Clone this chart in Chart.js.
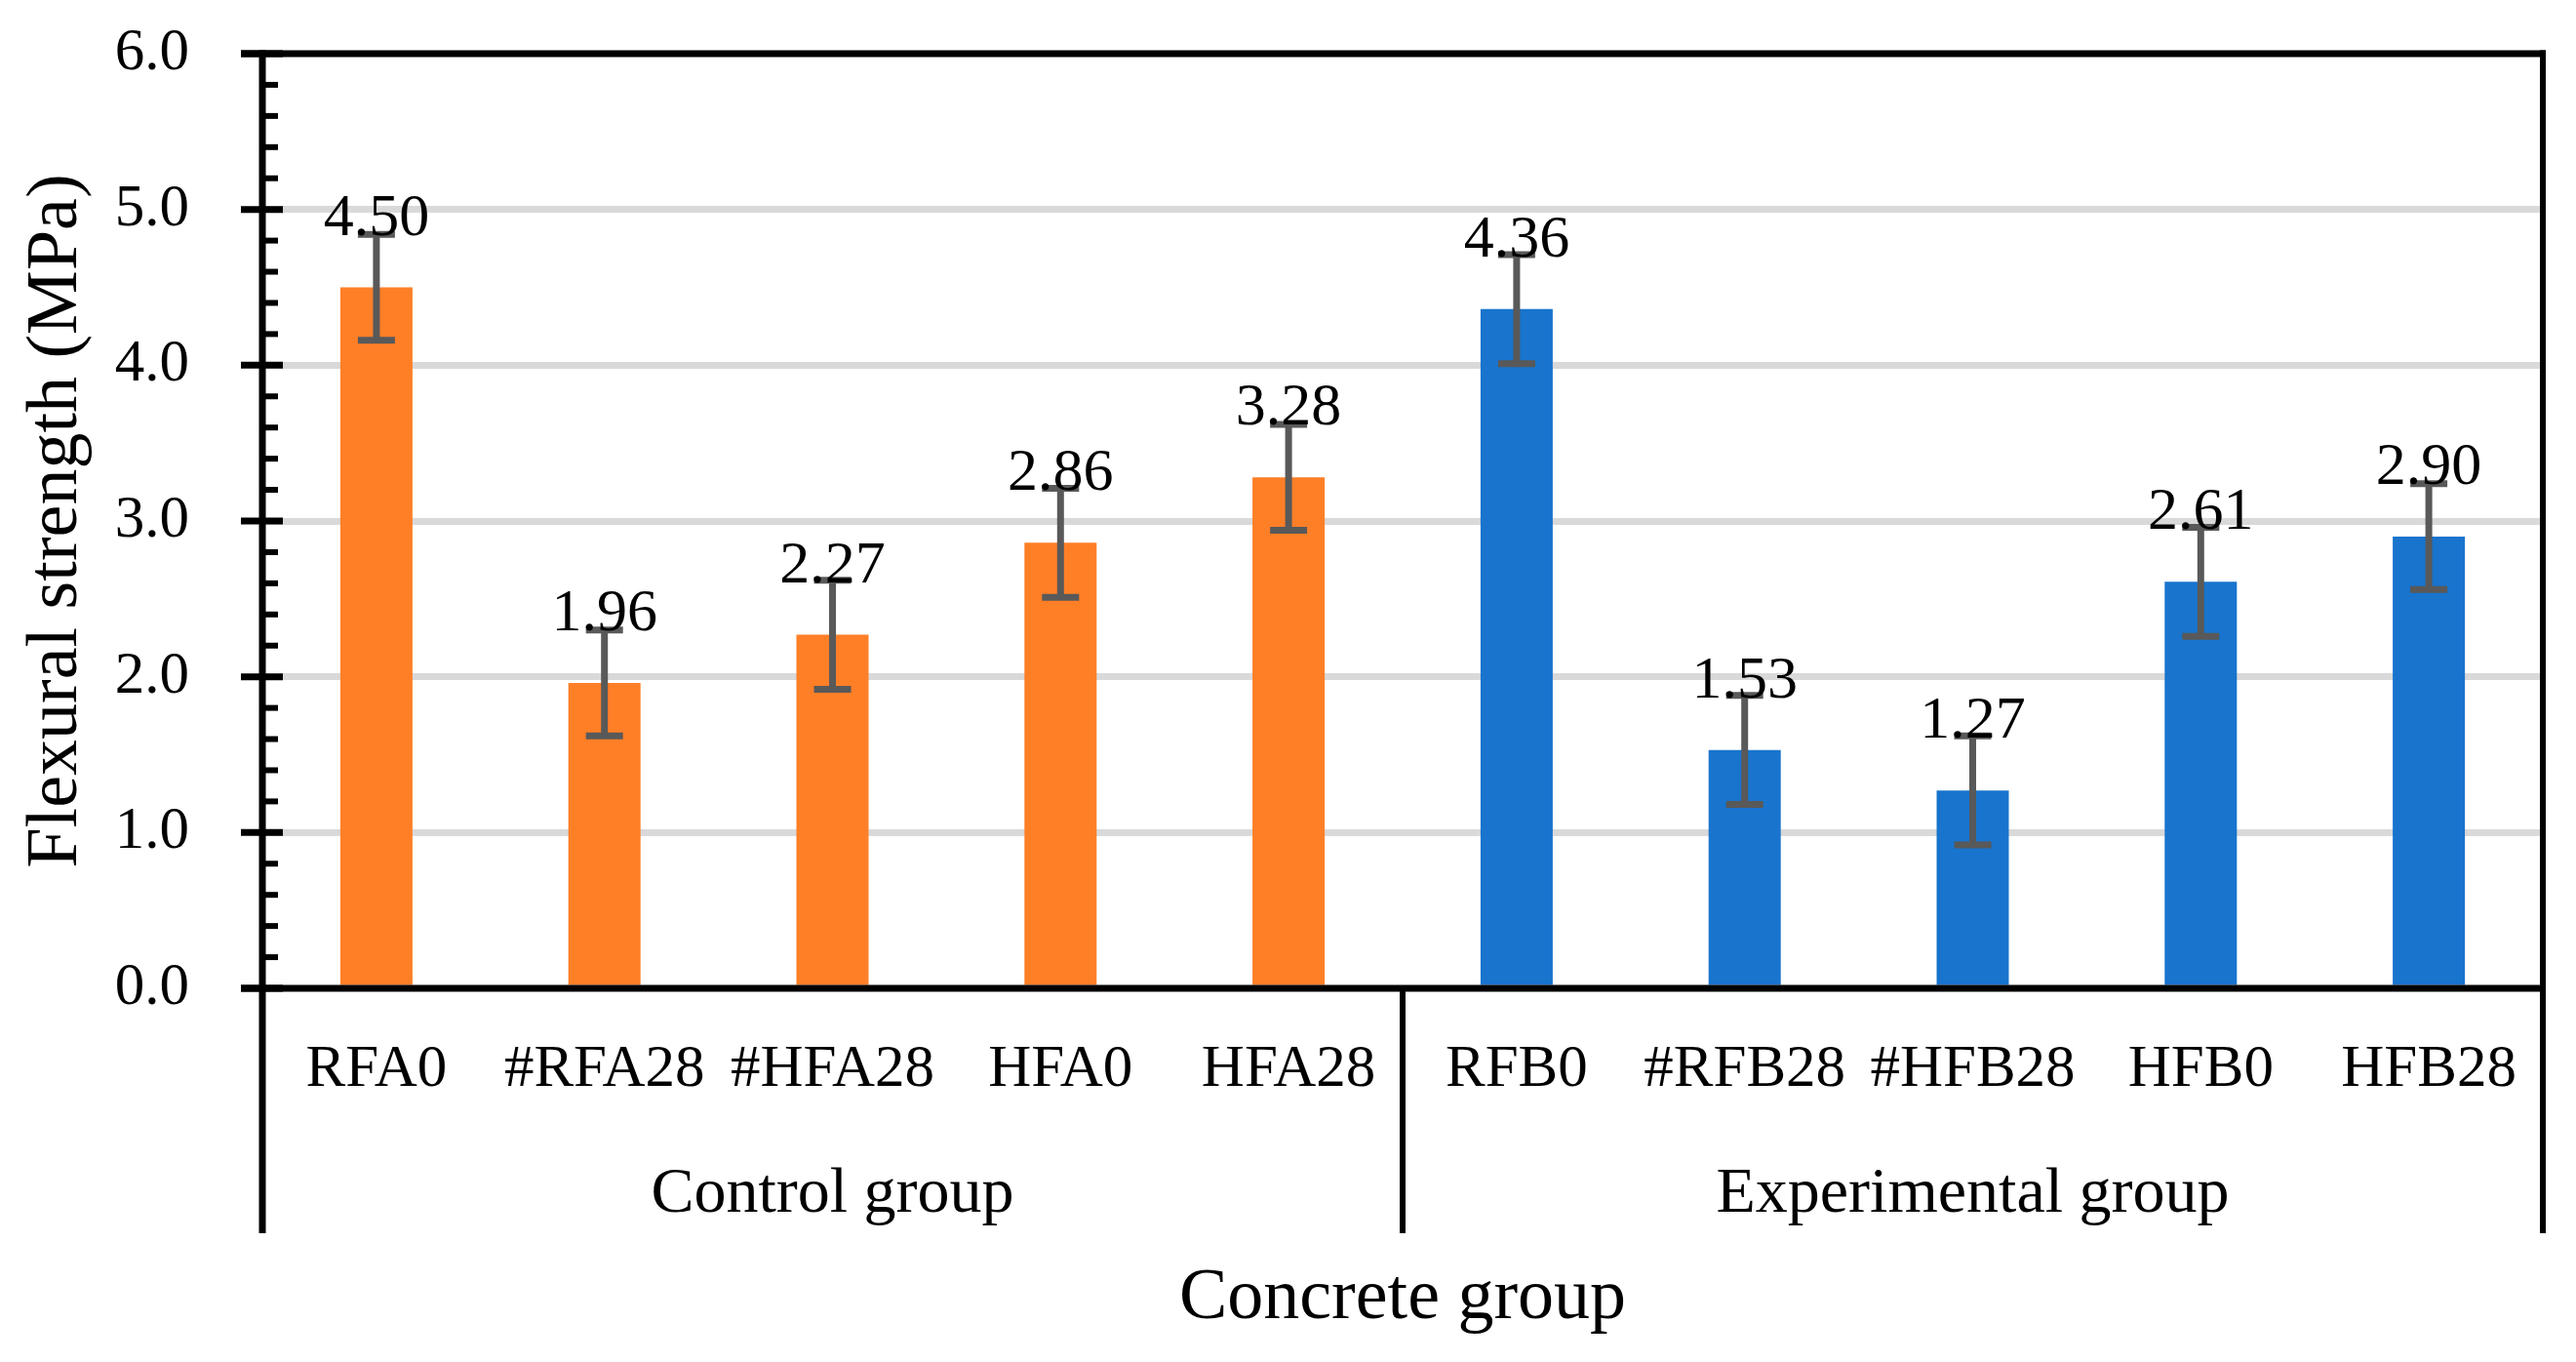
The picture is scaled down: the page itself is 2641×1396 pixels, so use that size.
<!DOCTYPE html>
<html>
<head>
<meta charset="utf-8">
<script src="https://cdn.jsdelivr.net/npm/chart.js@4.4.1/dist/chart.umd.min.js"></script>
<style>
  html, body { margin: 0; padding: 0; background: #fff; }
  #wrap { width: 2641px; height: 1396px; }
</style>
</head>
<body>
<div id="wrap"><canvas id="flexChart"></canvas></div>
<script>
// Flexural strength per concrete mix (MPa)
const categories = ['RFA0', '#RFA28', '#HFA28', 'HFA0', 'HFA28', 'RFB0', '#RFB28', '#HFB28', 'HFB0', 'HFB28'];
const strength = [4.50, 1.96, 2.27, 2.86, 3.28, 4.36, 1.53, 1.27, 2.61, 2.90];
const errors = [0.34, 0.34, 0.35, 0.35, 0.34, 0.35, 0.35, 0.35, 0.35, 0.34];
const groups = ['Control group', 'Experimental group'];
const groupSizes = [5, 5];
const yMin = 0, yMax = 6, yStep = 1, yMinorStep = 0.2;

const FONT = "'Liberation Serif', 'Times New Roman', serif";
const groupColors = ['#FF7F27', '#1874CD'];

// which group each bar belongs to
const groupOf = [];
groupSizes.forEach((n, g) => { for (let i = 0; i < n; i++) groupOf.push(g); });

function line(ctx, x1, y1, x2, y2) {
  ctx.beginPath();
  ctx.moveTo(x1, y1);
  ctx.lineTo(x2, y2);
  ctx.stroke();
}

// error bars, value labels, frame, ticks and the second-level category axis
const decorPlugin = {
  id: 'decor',
  afterDatasetsDraw(chart) {
    const { ctx, chartArea: area, scales: { x, y } } = chart;
    const lowerEdge = 1264;
    ctx.save();

    // error bars
    ctx.strokeStyle = '#595959';
    ctx.lineWidth = 7;
    strength.forEach((v, i) => {
      const px = x.getPixelForValue(i);
      const top = y.getPixelForValue(v + errors[i]);
      const bot = y.getPixelForValue(v - errors[i]);
      line(ctx, px, top, px, bot);
      line(ctx, px - 19, top, px + 19, top);
      line(ctx, px - 19, bot, px + 19, bot);
    });

    // frame
    ctx.strokeStyle = '#000';
    ctx.lineWidth = 7;
    line(ctx, area.left - 22, area.top, area.right + 3, area.top);
    line(ctx, area.left - 22, area.bottom, area.right + 3, area.bottom);
    line(ctx, area.left, area.top - 3.5, area.left, lowerEdge);
    ctx.lineWidth = 6;
    line(ctx, area.right, area.top - 3.5, area.right, lowerEdge);

    // major + minor y ticks
    ctx.lineWidth = 7;
    y.ticks.forEach(t => {
      const py = y.getPixelForValue(t.value);
      line(ctx, area.left - 22, py, area.left + 21, py);
    });
    ctx.lineWidth = 6;
    for (let k = 1; k * yMinorStep < yMax - 1e-6; k++) {
      const v = k * yMinorStep;
      if (Math.abs(v / yStep - Math.round(v / yStep)) < 1e-6) continue;
      const py = y.getPixelForValue(v);
      line(ctx, area.left, py, area.left + 16, py);
    }

    // group separators and group labels
    ctx.lineWidth = 6;
    ctx.fillStyle = '#000';
    ctx.font = '66px ' + FONT;
    ctx.textAlign = 'center';
    ctx.textBaseline = 'alphabetic';
    let start = 0;
    groups.forEach((name, g) => {
      const end = start + groupSizes[g] - 1;
      const cx = (x.getPixelForValue(start) + x.getPixelForValue(end)) / 2;
      ctx.fillText(name, cx, 1242);
      if (g < groups.length - 1) {
        const sx = (x.getPixelForValue(end) + x.getPixelForValue(end + 1)) / 2;
        line(ctx, sx, area.bottom, sx, lowerEdge);
      }
      start = end + 1;
    });

    // value labels
    ctx.font = '62px ' + FONT;
    strength.forEach((v, i) => {
      ctx.fillText(v.toFixed(2), x.getPixelForValue(i), y.getPixelForValue(v) - 54);
    });

    ctx.restore();
  }
};

new Chart(document.getElementById('flexChart'), {
  type: 'bar',
  data: {
    labels: categories,
    datasets: [{
      data: strength,
      backgroundColor: (c) => groupColors[groupOf[c.dataIndex]],
      barPercentage: 0.3165,
      categoryPercentage: 1.0
    }]
  },
  options: {
    responsive: true,
    maintainAspectRatio: false,
    animation: false,
    devicePixelRatio: 1,
    layout: { padding: { top: 55, right: 34, bottom: 0, left: 0 } },
    plugins: {
      legend: { display: false },
      tooltip: { enabled: false }
    },
    scales: {
      x: {
        grid: { display: false, drawTicks: false },
        border: { display: false },
        ticks: {
          color: '#000',
          padding: 47,
          maxRotation: 0,
          autoSkip: false,
          font: { family: FONT, size: 61 }
        },
        title: {
          display: true,
          text: 'Concrete group',
          color: '#000',
          padding: { top: 0, bottom: 20 },
          font: { family: FONT, size: 74 }
        },
        afterFit: (scale) => { scale.height = 383; }
      },
      y: {
        min: yMin,
        max: yMax,
        grid: {
          drawTicks: false,
          lineWidth: 7,
          color: (c) => (c.tick && (c.tick.value === yMin || c.tick.value === yMax)) ? 'rgba(0,0,0,0)' : '#D9D9D9'
        },
        border: { display: false },
        ticks: {
          stepSize: yStep,
          color: '#000',
          padding: 75,
          font: { family: FONT, size: 61 },
          callback: (v) => Number(v).toFixed(1)
        },
        title: {
          display: true,
          text: 'Flexural strength (MPa)',
          color: '#000',
          padding: { top: 14, bottom: 0 },
          font: { family: FONT, size: 74 }
        },
        afterFit: (scale) => {
          scale.width = 269;
          scale.paddingTop = 0;
          scale.paddingBottom = 0;
        }
      }
    }
  },
  plugins: [decorPlugin]
});
</script>
</body>
</html>
